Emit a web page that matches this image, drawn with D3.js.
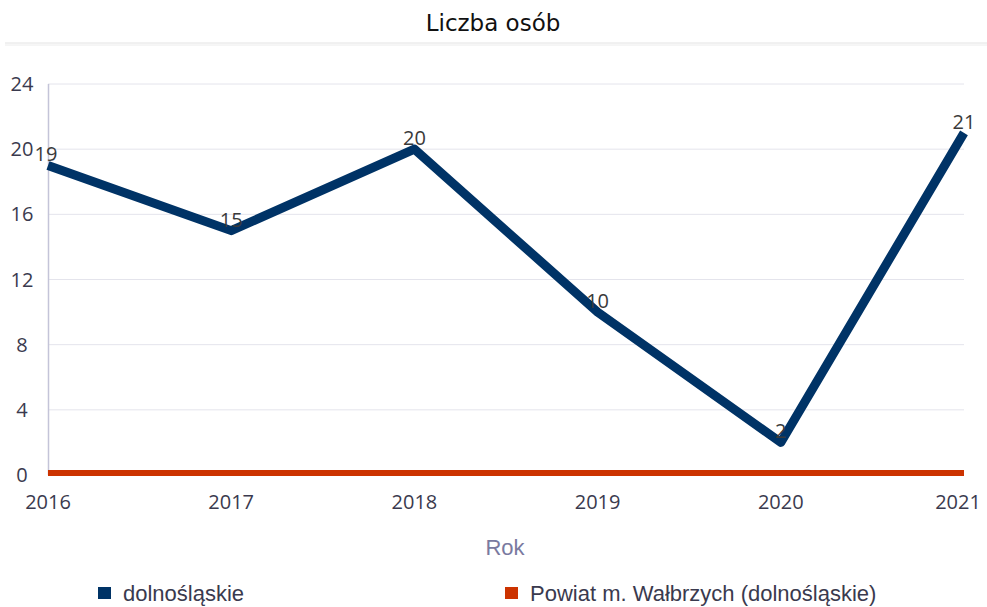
<!DOCTYPE html>
<html>
<head>
<meta charset="utf-8">
<script src="https://cdn.jsdelivr.net/npm/d3@7"></script>
<style>
  body { margin: 0; background: #fff; font-family: "Open Sans", sans-serif; }
</style>
</head>
<body>
<div id="graph"></div>
<script>
// data
const years = [2016, 2017, 2018, 2019, 2020, 2021];
const dolnoslaskie = [19, 15, 20, 10, 2, 21];
const walbrzych = [0, 0, 0, 0, 0, 0];
const yTicks = [0, 4, 8, 12, 16, 20, 24];
const seriesNames = ["dolnośląskie", "Powiat m. Wałbrzych (dolnośląskie)"];
const seriesColors = ["#003366", "#cc3300"];

const W = 987, H = 607;
const svg = d3.select("#graph").append("svg")
    .attr("width", W)
    .attr("height", H);

// title + separator
svg.append("text")
    .attr("x", 493).attr("y", 31)
    .attr("text-anchor", "middle")
    .attr("font-family", "'DejaVu Sans', sans-serif")
    .attr("font-size", 23)
    .attr("fill", "#111")
    .text("Liczba osób");
svg.append("line").attr("x1", 5).attr("x2", 987).attr("y1", 43).attr("y2", 43)
    .attr("stroke", "#e2e2e2").attr("stroke-width", 1);
svg.append("line").attr("x1", 5).attr("x2", 987).attr("y1", 45).attr("y2", 45)
    .attr("stroke", "#ececec").attr("stroke-width", 1);

const x = d3.scalePoint().domain(years).range([48, 964]);
const y = d3.scaleLinear().domain([0, 24]).range([475, 84]);

// gridlines
svg.append("g").selectAll("line")
    .data(yTicks.filter(d => d > 0))
    .enter().append("line")
    .attr("x1", 48).attr("x2", 964)
    .attr("y1", d => y(d)).attr("y2", d => y(d))
    .attr("stroke", "#e4e4ec").attr("stroke-width", 1);

// left axis line
svg.append("line").attr("x1", 48.5).attr("x2", 48.5).attr("y1", y(24)).attr("y2", y(0))
    .attr("stroke", "#c4c4d8").attr("stroke-width", 1.5);

// y tick labels
svg.append("g").selectAll("text")
    .data(yTicks)
    .enter().append("text")
    .attr("x", 22)
    .attr("y", d => y(d) + 7)
    .attr("text-anchor", "middle")
    .attr("font-size", 20)
    .attr("fill", "#3a3a4e")
    .text(d => d);

// x tick labels
svg.append("g").selectAll("text")
    .data(years)
    .enter().append("text")
    .attr("x", d => Math.min(Math.max(x(d), 44), 958))
    .attr("y", 509)
    .attr("text-anchor", "middle")
    .attr("font-size", 20)
    .attr("fill", "#3a3a4e")
    .text(d => d);

// axis title
svg.append("text")
    .attr("x", 505).attr("y", 555)
    .attr("text-anchor", "middle")
    .attr("font-family", "'Liberation Sans', Arial, sans-serif")
    .attr("font-size", 22)
    .attr("fill", "#7a7aa0")
    .text("Rok");

const line = d3.line()
    .x((d, i) => x(years[i]))
    .y(d => y(d));

svg.append("path")
    .datum(walbrzych)
    .attr("d", line)
    .attr("fill", "none")
    .attr("stroke", seriesColors[1])
    .attr("stroke-width", 6)
    .attr("transform", "translate(0,-2)");

svg.append("path")
    .datum(dolnoslaskie)
    .attr("d", line)
    .attr("fill", "none")
    .attr("stroke", seriesColors[0])
    .attr("stroke-width", 9)
    .attr("stroke-linejoin", "round");

// data labels
svg.append("g").selectAll("text")
    .data(dolnoslaskie)
    .enter().append("text")
    .attr("x", (d, i) => x(years[i]) - (i === 0 ? 2 : 0))
    .attr("y", d => y(d) - 4)
    .attr("text-anchor", "middle")
    .attr("font-size", 20)
    .attr("fill", "#3a3a3a")
    .text(d => d);

// legend
const legendX = [98, 505];
const legend = svg.append("g").selectAll("g")
    .data(seriesNames)
    .enter().append("g")
    .attr("transform", (d, i) => `translate(${legendX[i]},593)`);
legend.append("rect")
    .attr("x", 0).attr("y", -6)
    .attr("width", 13).attr("height", 12)
    .attr("fill", (d, i) => seriesColors[i]);
legend.append("text")
    .attr("x", 25).attr("y", 8)
    .attr("font-family", "'Liberation Sans', Arial, sans-serif")
    .attr("font-size", 22)
    .attr("fill", "#3a3a4e")
    .text(d => d);
</script>
</body>
</html>
